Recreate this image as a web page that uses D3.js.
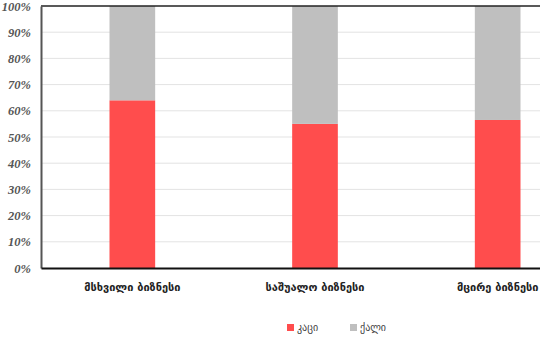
<!DOCTYPE html>
<html><head><meta charset="utf-8">
<script src="https://cdn.jsdelivr.net/npm/d3@7"></script>
<style>body{margin:0;background:#fff}</style>
</head><body>
<svg id="c" width="540" height="341"></svg>
<script>
const categories = ["მსხვილი ბიზნესი", "საშუალო ბიზნესი", "მცირე ბიზნესი"];
const seriesNames = ["კაცი", "ქალი"];
const men = [64, 55, 56.5];
const women = [36, 45, 43.5];
const yTicks = [0,10,20,30,40,50,60,70,80,90,100];
const colors = ["#ff4d4d", "#bfbfbf"];

(function(){
const svg = d3.select("#c");
const mLeft = 41, mTop = 6, mBottom = 268, mRight = 589;
const x = d3.scaleBand().domain(categories).range([mLeft, mRight]).paddingInner(0.75).paddingOuter(0.375);
const y = d3.scaleLinear().domain([0,100]).range([mBottom, mTop]);

svg.append("g").selectAll("line").data(yTicks.filter(t=>t>0&&t<100)).join("line")
  .attr("x1", mLeft).attr("x2", 540).attr("y1", d=>y(d)).attr("y2", d=>y(d))
  .attr("stroke", "#e3e3e3").attr("stroke-width", 1);

const rows = categories.map((c,i)=>({cat:c, [seriesNames[0]]:men[i], [seriesNames[1]]:women[i]}));
const stack = d3.stack().keys(seriesNames)(rows);
svg.append("g").selectAll("g").data(stack).join("g")
  .attr("fill", (d,i)=>colors[i])
  .selectAll("rect").data(d=>d).join("rect")
  .attr("x", d=>x(d.data.cat)).attr("width", x.bandwidth())
  .attr("y", d=>y(d[1])).attr("height", d=>y(d[0])-y(d[1]));

svg.append("line").attr("x1", mLeft).attr("x2", 540).attr("y1", y(100)).attr("y2", y(100))
  .attr("stroke", "#222").attr("stroke-width", 1.5);

const yAxis = d3.axisLeft(y).tickValues(yTicks).tickSize(0).tickPadding(10).tickFormat(d=>d+"%");
const gy = svg.append("g").attr("transform", `translate(${mLeft},0)`).call(yAxis);
gy.select(".domain").attr("stroke", "#555").attr("stroke-width", 2);
gy.selectAll("text").attr("font-family", "Liberation Serif").attr("font-style", "italic")
  .attr("font-weight", "bold").attr("font-size", 12.5).attr("fill", "#555");

const xAxis = d3.axisBottom(x).tickSize(0).tickPadding(15);
const gx = svg.append("g").attr("transform", `translate(0,${mBottom})`).call(xAxis);
gx.select(".domain").attr("stroke", "#111").attr("stroke-width", 2);
gx.selectAll("text").attr("font-family", "DejaVu Sans").attr("font-weight", "bold")
  .attr("font-size", 11).attr("fill", "#222");

const leg = svg.append("g");
const lx = [287, 350];
seriesNames.forEach((s,i)=>{
  leg.append("rect").attr("x", lx[i]).attr("y", 324).attr("width", 7).attr("height", 7).attr("fill", colors[i]);
  leg.append("text").attr("x", lx[i]+10).attr("y", 331).text(s)
    .attr("font-family", "DejaVu Sans").attr("font-size", 10).attr("fill", "#444");
});
})();
</script>
</body></html>
